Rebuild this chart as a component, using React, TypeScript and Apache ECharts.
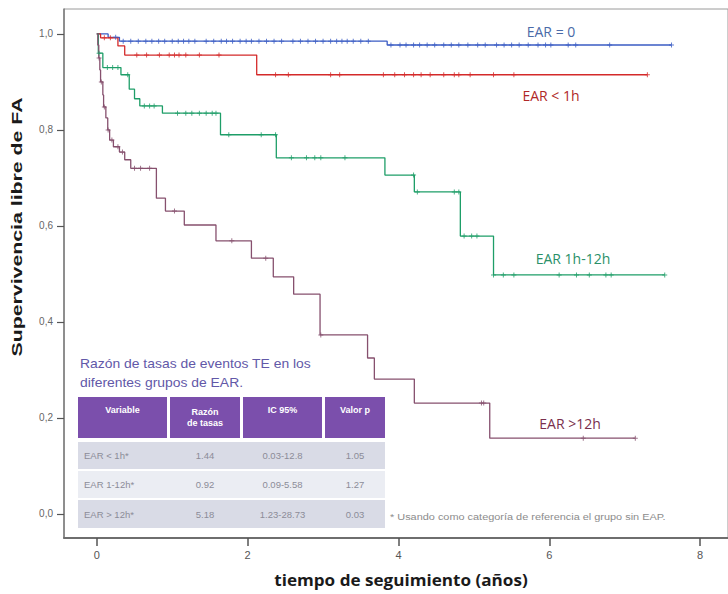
import React, { useEffect, useRef } from "react";
import * as echarts from "echarts";

// ---- Data ----
const xTicks = [0, 2, 4, 6, 8];
const yTicks = [0, 0.2, 0.4, 0.6, 0.8, 1.0];

const groupNames = ["EAR = 0", "EAR < 1h", "EAR 1h-12h", "EAR >12h"];

const blueTimes = [0, 0.15, 0.3, 3.85, 7.62];
const blueSurv = [1.0, 0.993, 0.985, 0.977, 0.977];
const blueCens = [0.25, 0.35, 0.45, 0.55, 0.65, 0.73, 0.82, 0.9, 1.0, 1.08, 1.15, 1.22, 1.3, 1.45, 1.55, 1.65, 1.72, 1.8, 1.9, 1.98, 2.05, 2.15, 2.25, 2.35, 2.45, 2.6, 2.7, 2.8, 2.9, 3.0, 3.1, 3.18, 3.25, 3.32, 3.4, 3.5, 3.6, 3.9, 4.02, 4.1, 4.2, 4.28, 4.38, 4.48, 4.6, 4.7, 4.8, 4.92, 5.05, 5.15, 5.3, 5.4, 5.5, 5.6, 5.72, 5.85, 5.95, 6.02, 6.25, 6.35, 6.8, 7.62];

const redTimes = [0, 0.05, 0.28, 0.37, 2.12, 7.3];
const redSurv = [1.0, 0.992, 0.975, 0.956, 0.915, 0.915];
const redCens = [0.1, 0.18, 0.53, 0.66, 0.83, 0.96, 1.03, 1.09, 1.18, 1.36, 1.62, 2.37, 2.54, 3.1, 3.22, 3.8, 3.95, 4.08, 4.2, 4.3, 4.42, 4.6, 4.74, 4.8, 4.95, 5.26, 5.53, 7.3];

const greenTimes = [0, 0.02, 0.08, 0.32, 0.43, 0.5, 0.57, 0.87, 1.64, 2.38, 3.82, 4.21, 4.82, 5.26, 7.53];
const greenSurv = [1.0, 0.96, 0.93, 0.915, 0.885, 0.865, 0.85, 0.835, 0.79, 0.742, 0.706, 0.671, 0.579, 0.498, 0.498];
const greenCens = [0.03, 0.14, 0.21, 0.28, 0.41, 0.63, 0.7, 0.76, 1.07, 1.18, 1.26, 1.36, 1.45, 1.53, 1.58, 1.75, 2.18, 2.37, 2.58, 2.78, 2.89, 2.97, 3.29, 4.2, 4.25, 4.74, 4.8, 4.87, 4.97, 5.04, 5.26, 5.39, 5.53, 6.13, 6.36, 6.53, 6.75, 6.82, 7.53];

const purpleTimes = [0, 0.013, 0.026, 0.04, 0.05, 0.08, 0.09, 0.12, 0.145, 0.17, 0.22, 0.3, 0.37, 0.45, 0.79, 0.91, 1.16, 1.58, 2.05, 2.34, 2.61, 2.96, 3.59, 3.68, 4.21, 5.21, 7.14];
const purpleSurv = [1.0, 0.977, 0.95, 0.925, 0.9, 0.873, 0.848, 0.825, 0.8, 0.779, 0.765, 0.754, 0.738, 0.72, 0.658, 0.631, 0.602, 0.569, 0.533, 0.494, 0.458, 0.373, 0.325, 0.281, 0.231, 0.158, 0.158];
const purpleCens = [0.03, 0.06, 0.1, 0.15, 0.2, 0.28, 0.34, 0.5, 0.58, 0.7, 1.03, 1.79, 2.24, 2.97, 5.1, 5.13, 6.45, 7.14];

// Table
const tableTitle = ["Razón de tasas de eventos TE en los", "diferentes grupos de EAR."];
const tableHeader = ["Variable", "Razón\nde tasas", "IC 95%", "Valor p"];
const tableVariable = ["EAR < 1h*", "EAR 1-12h*", "EAR > 12h*"];
const tableRatio = ["1.44", "0.92", "5.18"];
const tableCI = ["0.03-12.8", "0.09-5.58", "1.23-28.73"];
const tableP = ["1.05", "1.27", "0.03"];
const footnote = "* Usando como categoría de referencia el grupo sin EAP.";

const xTitle = "tiempo de seguimiento (años)";
const yTitle = "Supervivencia libre de FA";

// ---- Styling ----
const colors = ["#3b5cc4", "#d42a2a", "#1e9e68", "#86506e"];
const labelColors = ["#4a6aa8", "#b02828", "#2a9068", "#7a2f4d"];

function stepData(times: number[], surv: number[]) {
  return times.map((t, i) => [t, surv[i]]);
}
function survAt(times: number[], surv: number[], t: number) {
  let v = surv[0];
  for (let i = 0; i < times.length; i++) {
    if (times[i] <= t) v = surv[i];
  }
  return v;
}
function censData(times: number[], surv: number[], cens: number[]) {
  return cens.map((t) => [t, survAt(times, surv, t)]);
}

const plusPath = "path://M4,0H6V4H10V6H6V10H4V6H0V4H4Z";

export default function App() {
  const ref = useRef<HTMLDivElement>(null);
  useEffect(() => {
    document.body.style.margin = "0";
    if (!ref.current) return;
    const chart = echarts.init(ref.current, undefined, { renderer: "svg" });

    const groups = [
      [blueTimes, blueSurv, blueCens],
      [redTimes, redSurv, redCens],
      [greenTimes, greenSurv, greenCens],
      [purpleTimes, purpleSurv, purpleCens],
    ] as number[][][];

    const series: any[] = [];
    groups.forEach((g, i) => {
      series.push({
        type: "line",
        name: groupNames[i],
        step: "end",
        data: stepData(g[0], g[1]),
        showSymbol: false,
        lineStyle: { color: colors[i], width: 1.3 },
        z: 2 + i,
      });
      series.push({
        type: "scatter",
        name: groupNames[i] + " censurado",
        data: censData(g[0], g[1], g[2]),
        symbol: plusPath,
        symbolSize: 5,
        itemStyle: { color: colors[i] },
        z: 3 + i,
      });
    });

    // Table graphic
    const colX = [78, 170, 243, 325];
    const colW = [89, 70, 79, 60];
    const headerY = 397;
    const headerH = 41;
    const rowY = [442, 471, 500];
    const rowH = [27, 27, 28];
    const rowFill = ["#d9dbe6", "#ebedf3", "#d9dbe6"];
    const graphics: any[] = [];
    tableTitle.forEach((t, i) => {
      graphics.push({
        type: "text",
        x: 80,
        y: 364 + i * 19,
        scaleX: 1.07,
        style: {
          text: t,
          fill: "#6258a8",
          font: '13px "Liberation Sans"',
          align: "left",
          verticalAlign: "middle",
          textAlign: "left",
          textVerticalAlign: "middle",
        },
      });
    });
    tableHeader.forEach((h, c) => {
      graphics.push({
        type: "rect",
        shape: { x: colX[c], y: headerY, width: colW[c], height: headerH },
        style: { fill: "#7b4fac" },
      });
      graphics.push({
        type: "text",
        x: colX[c] + colW[c] / 2,
        y: headerY + headerH / 2 - (h.includes("\n") ? 0 : 8),
        style: {
          text: h,
          fill: "#ffffff",
          font: 'bold 9px "Liberation Sans"',
          lineHeight: 11,
          align: "center",
          verticalAlign: "middle",
          textAlign: "center",
          textVerticalAlign: "middle",
        },
      });
    });
    const cols = [tableVariable, tableRatio, tableCI, tableP];
    rowY.forEach((y, r) => {
      cols.forEach((col, c) => {
        graphics.push({
          type: "rect",
          shape: { x: colX[c], y, width: colW[c] + (c < 3 ? 3 : 0), height: rowH[r] },
          style: { fill: rowFill[r] },
        });
      });
      cols.forEach((col, c) => {
        graphics.push({
          type: "text",
          x: c === 0 ? colX[c] + 6 : colX[c] + colW[c] / 2,
          y: y + rowH[r] / 2,
          style: {
            text: col[r],
            fill: "#8c8c98",
            font: '9.5px "Liberation Sans"',
            align: c === 0 ? "left" : "center",
            verticalAlign: "middle",
            textAlign: c === 0 ? "left" : "center",
            textVerticalAlign: "middle",
          },
        });
      });
    });
    graphics.push({
      type: "text",
      x: 390,
      y: 517,
      scaleX: 1.15,
      style: {
        text: footnote,
        fill: "#8c8c8c",
        font: '9.5px "Liberation Sans"',
        align: "left",
        verticalAlign: "middle",
        textAlign: "left",
        textVerticalAlign: "middle",
      },
    });
    // Curve labels
    const labelPos = [
      [551, 31],
      [551, 95],
      [573, 258],
      [570, 423],
    ];
    groupNames.forEach((n, i) => {
      graphics.push({
        type: "text",
        x: labelPos[i][0],
        y: labelPos[i][1],
        style: {
          text: n,
          fill: labelColors[i],
          font: '14px "Open Sans"',
          align: "center",
          verticalAlign: "middle",
          textAlign: "center",
          textVerticalAlign: "middle",
        },
      });
    });
    // Axis titles
    graphics.push({
      type: "text",
      x: 17,
      y: 227,
      rotation: Math.PI / 2,
      scaleX: 1.42,
      style: {
        text: yTitle,
        fill: "#1a1a1a",
        font: 'bold 15px "Liberation Sans"',
        align: "center",
        verticalAlign: "middle",
        textAlign: "center",
        textVerticalAlign: "middle",
      },
    });
    graphics.push({
      type: "text",
      x: 401,
      y: 580,
      scaleX: 1.07,
      style: {
        text: xTitle,
        fill: "#1a1a1a",
        font: 'bold 16px "Open Sans"',
        align: "center",
        verticalAlign: "middle",
        textAlign: "center",
        textVerticalAlign: "middle",
      },
    });

    chart.setOption({
      animation: false,
      backgroundColor: "#ffffff",
      grid: {
        left: 64,
        top: 9,
        width: 668,
        height: 529,
        show: true,
        borderColor: "#9a9a9a",
        borderWidth: 1,
        backgroundColor: "#ffffff",
      },
      xAxis: {
        type: "value",
        min: -0.435,
        max: 8.369,
        splitLine: { show: false },
        axisLine: { show: true, onZero: false, lineStyle: { color: "#6e6e6e", width: 2 } },
        axisTick: {
          show: true,
          customValues: xTicks,
          length: 8,
          inside: false,
          lineStyle: { color: "#555", width: 1.5 },
        },
        axisLabel: {
          customValues: xTicks,
          margin: 11,
          color: "#555",
          fontSize: 11,
          fontFamily: "Liberation Sans",
        },
      },
      yAxis: {
        type: "value",
        min: -0.05,
        max: 1.052,
        splitLine: { show: false },
        axisLine: { show: true, onZero: false, lineStyle: { color: "#7a7a7a", width: 1.5 } },
        axisTick: {
          show: true,
          customValues: yTicks,
          length: 7,
          inside: false,
          lineStyle: { color: "#555", width: 1.2 },
        },
        axisLabel: {
          customValues: yTicks,
          margin: 11,
          color: "#666",
          fontSize: 10,
          fontFamily: "Liberation Sans",
          formatter: (v: number) => v.toFixed(1).replace(".", ","),
        },
      },
      series,
      graphic: graphics,
    });
    return () => chart.dispose();
  }, []);
  return <div ref={ref} style={{ width: 728, height: 594 }} />;
}
